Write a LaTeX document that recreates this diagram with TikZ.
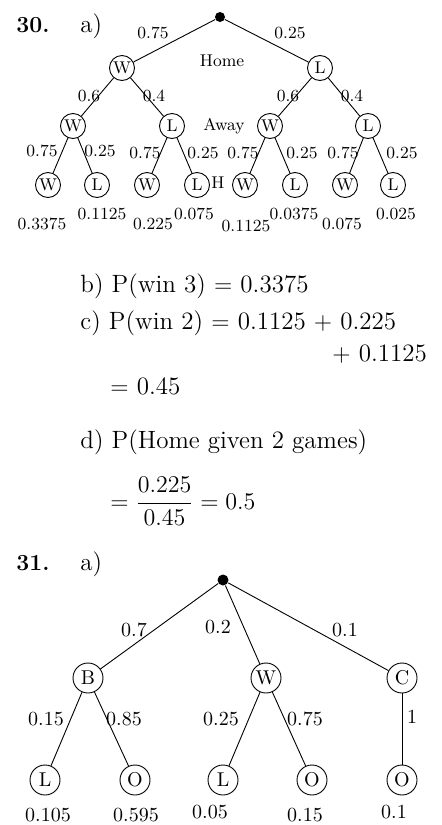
\documentclass[tikz,border=0pt]{standalone}
\begin{document}
\begin{tikzpicture}[x=0.5pt,y=-0.5pt,line width=.45pt,
    qnum/.style={font=\fontsize{11.5}{13}\selectfont\bfseries,anchor=base west,inner sep=0pt},
    ansline/.style={font=\fontsize{12.5}{14}\selectfont,anchor=base west,inner sep=0pt},
    rootdot/.style={circle,fill,minimum size=5pt,inner sep=0pt},
    smallout/.style={circle,draw,minimum size=12.5pt,inner sep=0pt,font=\fontsize{8.5}{9}\selectfont},
    bigout/.style={circle,draw,minimum size=15pt,inner sep=0pt,font=\fontsize{10}{11}\selectfont},
    smallprob/.style={font=\fontsize{8.5}{9}\selectfont,inner sep=0pt},
    bigprob/.style={font=\fontsize{10}{11}\selectfont,inner sep=0pt}]
  \useasboundingbox (0,0) rectangle (441,825);

  % question 30
  \node[qnum] (q30) at (16,32) {30.};
  \node[ansline] (q30a) at (80,32) {a)};
  \node[rootdot] (r30) at (220,17) {};
  \node[smallout] (hw) at (122,68) {W};
  \node[smallout] (hl) at (320,68) {L};
  \node[smallout] (hww) at (73,126) {W};
  \node[smallout] (hwl) at (172,126) {L};
  \node[smallout] (hlw) at (270,126) {W};
  \node[smallout] (hll) at (368,126) {L};
  \node[smallout] (hwww) at (48,185) {W};
  \node[smallout] (hwwl) at (97,185) {L};
  \node[smallout] (hwlw) at (147,185) {W};
  \node[smallout] (hwll) at (197,185) {L};
  \node[smallout] (hlww) at (245,185) {W};
  \node[smallout] (hlwl) at (295,185) {L};
  \node[smallout] (hllw) at (345,185) {W};
  \node[smallout] (hlll) at (393,185) {L};
  \draw (r30) -- (hw);
  \draw (r30) -- (hl);
  \draw (hw) -- (hww);
  \draw (hw) -- (hwl);
  \draw (hl) -- (hlw);
  \draw (hl) -- (hll);
  \draw (hww) -- (hwww);
  \draw (hww) -- (hwwl);
  \draw (hwl) -- (hwlw);
  \draw (hwl) -- (hwll);
  \draw (hlw) -- (hlww);
  \draw (hlw) -- (hlwl);
  \draw (hll) -- (hllw);
  \draw (hll) -- (hlll);
  % branch labels
  \node[smallprob] (p-hw) at (153,33) {0.75};
  \node[smallprob] (p-hl) at (290,33) {0.25};
  \node[smallprob] (lbl-home) at (222,61) {Home};
  \node[smallprob] (p-hww) at (89,96) {0.6};
  \node[smallprob] (p-hwl) at (154,96) {0.4};
  \node[smallprob] (p-hlw) at (288,96) {0.6};
  \node[smallprob] (p-hll) at (352,96) {0.4};
  \node[smallprob] (lbl-away) at (224,126) {Away};
  \node[smallprob] (p-hwww) at (42,151) {0.75};
  \node[smallprob] (p-hwwl) at (100,151) {0.25};
  \node[smallprob] (p-hwlw) at (145,153) {0.75};
  \node[smallprob] (p-hwll) at (203,153) {0.25};
  \node[smallprob] (p-hlww) at (243,153) {0.75};
  \node[smallprob] (p-hlwl) at (302,153) {0.25};
  \node[smallprob] (p-hllw) at (343,153) {0.75};
  \node[smallprob] (p-hlll) at (402,153) {0.25};
  \node[smallprob] (lbl-h) at (218,183) {H};
  % end probabilities
  \node[smallprob] (e-hwww) at (42,224) {0.3375};
  \node[smallprob] (e-hwwl) at (102,214) {0.1125};
  \node[smallprob] (e-hwlw) at (153,224) {0.225};
  \node[smallprob] (e-hwll) at (194,214) {0.075};
  \node[smallprob] (e-hlww) at (246,226) {0.1125};
  \node[smallprob] (e-hlwl) at (294,214) {0.0375};
  \node[smallprob] (e-hllw) at (342,224) {0.075};
  \node[smallprob] (e-hlll) at (396,214) {0.025};

  % answers b) to d)
  \node[ansline] (ans-b) at (80,292) {b) P(win 3) $=$ 0.3375};
  \node[ansline] (ans-c) at (80,329) {c) P(win 2) $=$ 0.1125 $+$ 0.225};
  \node[ansline] (ans-c2) at (332,361) {$+$ 0.1125};
  \node[ansline] (ans-c3) at (110,394) {$=$ 0.45};
  \node[ansline] (ans-d) at (80,448) {d) P(Home given 2 games)};
  \node[ansline] (ans-d2) at (110,509) {$\displaystyle=\frac{0.225}{0.45}=0.5$};

  % question 31
  \node[qnum] (q31) at (16,570) {31.};
  \node[ansline] (q31a) at (80,570) {a)};
  \node[rootdot,minimum size=5.5pt] (r31) at (223,580) {};
  \node[bigout] (bx) at (88,678) {B};
  \node[bigout] (wx) at (266,678) {W};
  \node[bigout] (cx) at (402,678) {C};
  \node[bigout] (bl) at (45,780) {L};
  \node[bigout] (bo) at (135,780) {O};
  \node[bigout] (wl) at (223,780) {L};
  \node[bigout] (wo) at (312,780) {O};
  \node[bigout] (co) at (402,780) {O};
  \draw (r31) -- (bx);
  \draw (r31) -- (wx);
  \draw (r31) -- (cx);
  \draw (bx) -- (bl);
  \draw (bx) -- (bo);
  \draw (wx) -- (wl);
  \draw (wx) -- (wo);
  \draw (cx) -- (co);
  \node[bigprob] (p-bx) at (134,630) {0.7};
  \node[bigprob] (p-wx) at (218,627) {0.2};
  \node[bigprob] (p-cx) at (345,630) {0.1};
  \node[bigprob] (p-bl) at (46,719) {0.15};
  \node[bigprob] (p-bo) at (124,719) {0.85};
  \node[bigprob] (p-wl) at (221,719) {0.25};
  \node[bigprob] (p-wo) at (305,719) {0.75};
  \node[bigprob] (p-co) at (412,717) {1};
  \node[bigprob] (e-bl) at (48,815) {0.105};
  \node[bigprob] (e-bo) at (136,815) {0.595};
  \node[bigprob] (e-wl) at (210,812) {0.05};
  \node[bigprob] (e-wo) at (305,815) {0.15};
  \node[bigprob] (e-co) at (394,812) {0.1};
\end{tikzpicture}
\end{document}
